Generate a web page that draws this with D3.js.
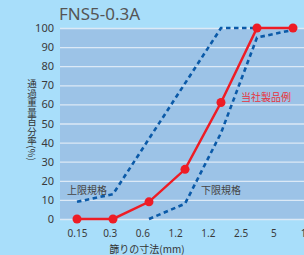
<!DOCTYPE html>
<html lang="ja">
<head>
    <meta charset="UTF-8">
    <title>FNS5-0.3A</title>
    <script src="https://d3js.org/d3.v7.min.js"></script>
    <style>
        html, body {
            margin: 0;
            padding: 0;
            background: #a8defa;
        }

        svg {
            display: block;
            font-family: "Noto Sans CJK JP", "Noto Sans", sans-serif;
        }
    </style>
</head>
<body>

<svg id="chart" width="304" height="255"></svg>

<script>
    // data
    const sieves = ["0.15", "0.3", "0.6", "1.2", "2.5", "5", "10"];
    const tickLabels = ["0.15", "0.3", "0.6", "1.2", "1.2", "2.5", "5", "10"];
    const product = [0, 0, 9, 26, 61, 100, 100];
    const upper = [9, 13, 42, 71, 100, 100, null];
    const lower = [null, null, 0, 8, 45, 95, 99];
    const yTicks = [0, 10, 20, 30, 40, 50, 60, 70, 80, 90, 100];

    const W = 304, H = 255;
    const plot = { left: 60, right: 304, top: 28, bottom: 219 };

    const svg = d3.select("#chart");

    const x = d3.scalePoint()
                .domain(d3.range(sieves.length))
                .range([77, 293]);

    // tick labels are spaced a little tighter than the points
    const xt = d3.scalePoint()
                 .domain(d3.range(tickLabels.length))
                 .range([77, 306]);

    const y = d3.scaleLinear()
                .domain([0, 100])
                .range([plot.bottom, plot.top]);

    svg.append("rect")
       .attr("width", W)
       .attr("height", H)
       .attr("fill", "#a8defa");

    svg.append("rect")
       .attr("x", plot.left)
       .attr("y", plot.top)
       .attr("width", plot.right - plot.left)
       .attr("height", plot.bottom - plot.top)
       .attr("fill", "#9cc3e7");

    // grid + y labels
    const yAxis = svg.append("g")
                     .attr("transform", `translate(${plot.left},0)`)
                     .call(d3.axisLeft(y)
                             .tickValues(yTicks)
                             .tickSize(-(plot.right - plot.left))
                             .tickPadding(6));
    yAxis.select(".domain").remove();
    yAxis.selectAll("line")
         .attr("stroke", "#dce9f6")
         .attr("stroke-width", 1.3);
    yAxis.selectAll("text")
         .attr("fill", "#3a3a3a")
         .style("font-size", "11px")
         .style("font-family", "'Noto Sans', sans-serif");

    // x labels
    const xAxis = svg.append("g")
                     .attr("transform", `translate(0,${plot.bottom})`)
                     .call(d3.axisBottom(xt)
                             .tickFormat(i => tickLabels[i])
                             .tickSize(0)
                             .tickPadding(11));
    xAxis.select(".domain").remove();
    xAxis.selectAll("text")
         .attr("fill", "#3a3a3a")
         .style("font-size", "10px")
         .style("font-family", "'Noto Sans', sans-serif");

    const line = d3.line()
                   .defined(d => d != null)
                   .x((d, i) => x(i))
                   .y(d => y(d));

    // limits
    [upper, lower].forEach(s => {
        svg.append("path")
           .datum(s)
           .attr("fill", "none")
           .attr("stroke", "#0b5aa8")
           .attr("stroke-width", 2.6)
           .attr("stroke-dasharray", "4.5,3.5")
           .attr("d", line);
    });

    // product example
    svg.append("path")
       .datum(product)
       .attr("fill", "none")
       .attr("stroke", "#ee1c25")
       .attr("stroke-width", 2.5)
       .attr("d", line);

    svg.selectAll("circle.pt")
       .data(product)
       .enter()
       .append("circle")
       .attr("class", "pt")
       .attr("cx", (d, i) => x(i))
       .attr("cy", d => y(d))
       .attr("r", 4.5)
       .attr("fill", "#ee1c25");

    // texts
    svg.append("text")
       .attr("x", 59)
       .attr("y", 20)
       .attr("fill", "#555")
       .style("font-size", "17px")
       .style("font-family", "'Noto Sans', sans-serif")
       .text("FNS5-0.3A");

    svg.append("text")
       .attr("x", 67)
       .attr("y", 194)
       .attr("fill", "#444")
       .style("font-size", "10px")
       .text("上限規格");

    svg.append("text")
       .attr("x", 201)
       .attr("y", 194)
       .attr("fill", "#444")
       .style("font-size", "10px")
       .text("下限規格");

    svg.append("text")
       .attr("x", 241)
       .attr("y", 101)
       .attr("fill", "#e8323c")
       .style("font-size", "10px")
       .text("当社製品例");

    svg.append("text")
       .attr("x", 147)
       .attr("y", 253)
       .attr("text-anchor", "middle")
       .attr("fill", "#333")
       .style("font-size", "10px")
       .text("篩りの寸法(mm)");

    svg.append("text")
       .attr("x", 32)
       .attr("y", 79)
       .attr("fill", "#333")
       .style("font-size", "9.5px")
       .style("writing-mode", "vertical-rl")
       .text("通過重量百分率(%)");
</script>

</body>
</html>
